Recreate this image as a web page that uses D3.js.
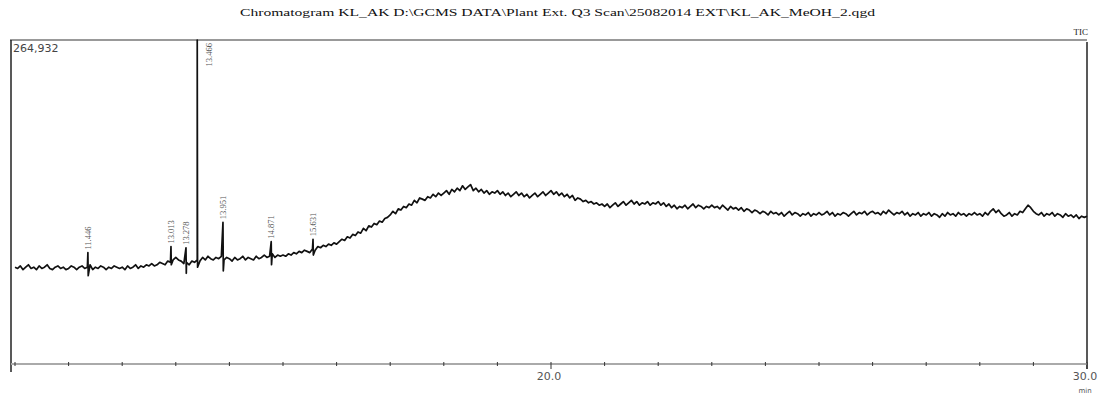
<!DOCTYPE html>
<html>
<head>
<meta charset="utf-8">
<script src="https://cdn.jsdelivr.net/npm/d3@7"></script>
<style>
  body { margin: 0; background: #fff; }
  svg { display: block; }
</style>
</head>
<body>
<div id="chart"></div>
<script>
// retention time grid (min) and TIC intensity in thousands of counts
var tStart = 10, tStep = 0.05;
var tic = [
  78,77,79,76,78,80,77,78,76,79,77,78,80,77,76,78,79,77,78,76,
  77,79,78,76,78,79,77,78,80,76,78,77,79,78,76,78,77,79,78,77,
  78,76,79,77,78,80,77,79,78,80,79,81,79,80,82,81,80,83,82,84,
  86,84,83,81,82,80,83,82,84,83,86,84,87,85,84,86,85,87,84,86,
  85,83,86,84,85,87,84,86,85,84,87,85,86,88,86,87,89,86,88,87,
  88,87,89,88,90,89,91,90,92,91,90,93,92,95,94,96,95,97,96,98,
  97,99,101,100,103,102,105,104,107,106,110,108,112,111,114,113,116,115,118,119,
  121,124,122,126,125,128,127,130,129,133,131,135,134,133,136,135,138,136,139,137,
  139,141,138,142,140,143,141,145,142,144,146,141,143,140,142,139,141,138,140,139,
  141,138,140,137,139,136,138,140,137,139,136,138,135,137,139,136,138,140,137,139,
  141,138,140,137,139,136,138,135,137,133,135,134,132,133,131,132,130,131,129,130,
  128,130,127,129,131,128,130,132,129,131,133,130,132,129,131,130,132,129,131,130,
  132,129,131,128,130,127,129,126,128,127,129,126,128,130,127,129,128,126,128,127,
  129,127,128,126,129,127,125,128,126,127,125,127,124,126,125,123,125,124,122,124,
  123,121,124,122,123,121,123,120,122,124,121,123,122,120,122,121,123,120,122,121,
  123,121,122,124,121,123,120,122,121,123,122,120,122,124,121,123,122,124,121,123,
  124,122,123,121,124,122,125,123,121,123,122,124,121,123,120,122,121,123,120,122,
  121,123,120,122,121,119,122,120,123,121,122,120,123,121,122,120,122,121,123,121,
  122,120,123,121,124,126,123,125,122,120,121,123,120,122,121,124,123,126,129,127,
  124,122,121,123,120,122,121,123,120,122,121,119,122,120,121,119,121,118,120,119,
  120
];

// labelled peaks: retention time, apex, dip after the spike (thousands)
var peakTimes  = [11.36, 12.91, 13.19, 13.40, 13.88, 14.78, 15.56];
var peakTops   = [90, 95, 94, 264.932, 115, 99, 101];
var peakLows   = [71, 80, 73, 78, 75, 80, 88];
var peakLabels = ["11.446", "13.013", "13.278", "13.466", "13.951", "14.871", "15.631"];

var xTicks = d3.range(10, 30.01, 1);
var xLabels = [20, 30];

var title = "Chromatogram KL_AK D:\\GCMS DATA\\Plant Ext. Q3 Scan\\25082014 EXT\\KL_AK_MeOH_2.qgd";
var maxLabel = "264,932";

function drawChart() {
    var W = 1102, H = 394;
    var m = { left: 11, right: 1087, top: 40, bottom: 362 };

    var svg = d3.select("#chart").append("svg")
        .attr("width", W)
        .attr("height", H);

    var x = d3.scaleLinear().domain([10, 30]).range([15, m.right]);
    var y = d3.scaleLinear().domain([0, 264.932]).range([m.bottom, m.top]);

    // build trace, splice peaks in by time
    var pts = tic.map(function(v, i) { return [tStart + i * tStep, v]; });
    peakTimes.forEach(function(t, i) {
        pts.push([t, peakTops[i]]);
        pts.push([t + 0.006, peakLows[i]]);
    });
    pts.sort(function(a, b) { return a[0] - b[0]; });

    // title
    svg.append("text")
        .attr("x", 240)
        .attr("y", 16)
        .attr("textLength", 635)
        .attr("lengthAdjust", "spacingAndGlyphs")
        .style("font-family", "'Liberation Serif', 'DejaVu Serif', serif")
        .style("font-size", "11px")
        .style("fill", "#111")
        .text(title);

    // top border
    svg.append("line")
        .attr("x1", m.left - 1).attr("x2", m.right)
        .attr("y1", m.top).attr("y2", m.top)
        .style("stroke", "#999")
        .style("stroke-width", 2);

    svg.append("text")
        .attr("x", m.right + 1)
        .attr("y", 35)
        .style("text-anchor", "end")
        .style("font-family", "'Liberation Serif', serif")
        .style("font-size", "9px")
        .style("fill", "#222")
        .text("TIC");

    // left and right frame
    svg.append("line")
        .attr("x1", m.left).attr("x2", m.left)
        .attr("y1", m.top).attr("y2", m.bottom + 10)
        .style("stroke", "#222").style("stroke-width", 1.5);
    svg.append("line")
        .attr("x1", m.right).attr("x2", m.right)
        .attr("y1", m.top + 2).attr("y2", m.bottom + 7)
        .style("stroke", "#222").style("stroke-width", 1.5);

    // bottom axis
    var gx = svg.append("g");
    gx.append("line")
        .attr("x1", m.left).attr("x2", m.right)
        .attr("y1", m.bottom + 2).attr("y2", m.bottom + 2)
        .style("stroke", "#aaa").style("stroke-width", 2);
    gx.selectAll(".tick")
        .data(xTicks)
        .enter().append("line")
        .attr("x1", function(d) { return x(d); })
        .attr("x2", function(d) { return x(d); })
        .attr("y1", m.bottom)
        .attr("y2", function(d) { return xLabels.indexOf(d) >= 0 ? m.bottom + 7 : m.bottom + 4; })
        .style("stroke", "#333").style("stroke-width", 1);
    gx.selectAll(".lbl")
        .data(xLabels)
        .enter().append("text")
        .attr("x", function(d) { return x(d) - 2; })
        .attr("y", m.bottom + 18)
        .style("text-anchor", "middle")
        .style("font-family", "'DejaVu Sans', sans-serif")
        .style("font-size", "11px")
        .style("fill", "#555")
        .text(function(d) { return d.toFixed(1); });
    svg.append("text")
        .attr("x", x(30) - 2)
        .attr("y", m.bottom + 31)
        .style("text-anchor", "middle")
        .style("font-family", "'DejaVu Sans', sans-serif")
        .style("font-size", "7px")
        .style("fill", "#555")
        .text("min");

    // max intensity label
    svg.append("text")
        .attr("x", m.left + 2)
        .attr("y", m.top + 12)
        .style("font-family", "'DejaVu Sans', sans-serif")
        .style("font-size", "11px")
        .style("fill", "#444")
        .text(maxLabel);

    // trace
    var line = d3.line()
        .x(function(d) { return x(d[0]); })
        .y(function(d) { return y(d[1]); });

    svg.append("path")
        .datum(pts)
        .attr("d", line)
        .style("fill", "none")
        .style("stroke", "#111")
        .style("stroke-width", 1.7)
        .style("stroke-linejoin", "round");

    // peak labels, rotated
    svg.selectAll(".peak")
        .data(peakTimes)
        .enter().append("text")
        .attr("transform", function(d, i) {
            var px = x(d), py;
            if (peakTops[i] > 200) { px += 15; py = m.top + 3; }
            else { px += 3; py = y(peakTops[i]) - 3; }
            return "translate(" + px + "," + py + ") rotate(-90)";
        })
        .style("text-anchor", function(d, i) { return peakTops[i] > 200 ? "end" : "start"; })
        .style("font-family", "'Liberation Serif', serif")
        .style("font-size", "8.5px")
        .style("fill", "#555")
        .text(function(d, i) { return peakLabels[i]; });
}
drawChart();
</script>
</body>
</html>
